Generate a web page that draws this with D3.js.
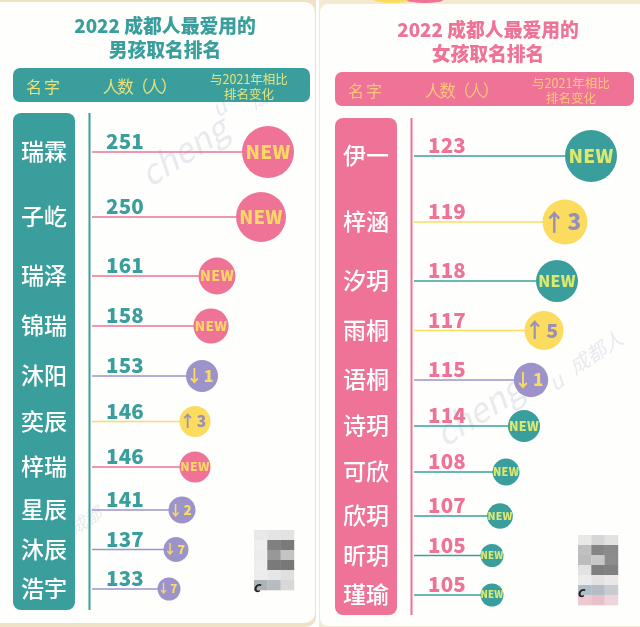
<!DOCTYPE html>
<html>
<head>
<meta charset="utf-8">
<script src="https://cdn.jsdelivr.net/npm/d3@7"></script>
<style>
  html, body { margin: 0; padding: 0; background: #fff; overflow: hidden; }
  svg { display: block; filter: blur(0.45px); }
  text { font-family: "Noto Sans CJK SC", sans-serif; }
</style>
</head>
<body>
<div id="chart"></div>
<script>
// boys table
var boyNames = ["瑞霖", "子屹", "瑞泽", "锦瑞", "沐阳", "奕辰", "梓瑞", "星辰", "沐辰", "浩宇"];
var boyCounts = [251, 250, 161, 158, 153, 146, 146, 141, 137, 133];
var boyChanges = ["NEW", "NEW", "NEW", "NEW", "-1", "+3", "NEW", "-2", "-7", "-7"];

// girls table
var girlNames = ["伊一", "梓涵", "汐玥", "雨桐", "语桐", "诗玥", "可欣", "欣玥", "昕玥", "瑾瑜"];
var girlCounts = [123, 119, 118, 117, 115, 114, 108, 107, 105, 105];
var girlChanges = ["NEW", "+3", "NEW", "+5", "-1", "NEW", "NEW", "NEW", "NEW", "NEW"];

// header labels
var headerName = "名字";
var headerCount = "人数（人）";
var headerChange = ["与2021年相比", "排名变化"];

var teal = "#3a9f9c", pink = "#ee7396", yellow = "#fbdc5f", purple = "#9d93cb";

var width = 640, height = 627;

var svg = d3.select("#chart")
  .append("svg")
    .attr("width", width)
    .attr("height", height);

// paper behind the two cards
svg.append("rect").attr("width", width).attr("height", height).attr("fill", "#fefefc");
svg.append("rect").attr("x", -20).attr("y", -10).attr("width", 336).attr("height", 637).attr("rx", 10).attr("fill", "#efe3c6");
svg.append("rect").attr("x", 319).attr("y", -10).attr("width", 340).attr("height", 637).attr("fill", "#f4ead2");
svg.append("rect").attr("x", -20).attr("y", 2).attr("width", 335).attr("height", 621).attr("rx", 10).attr("fill", "#fefefd");
svg.append("rect").attr("x", 320).attr("y", 4).attr("width", 340).attr("height", 622).attr("rx", 8).attr("fill", "#fefefd");
svg.append("ellipse").attr("cx", 392).attr("cy", 0).attr("rx", 18).attr("ry", 3).attr("fill", yellow);
svg.append("ellipse").attr("cx", 425).attr("cy", 0).attr("rx", 18).attr("ry", 3).attr("fill", pink);

// faint watermarks
var marks = [
  {x: 150, y: 188, a: -33, s: 34, t: "cheng"},
  {x: 445, y: 448, a: -33, s: 34, t: "cheng"},
  {x: 218, y: 118, a: -33, s: 22, t: "u"},
  {x: 555, y: 392, a: -33, s: 22, t: "u"},
  {x: 575, y: 375, a: -33, s: 20, t: "成都人"},
  {x: 255, y: 110, a: -33, s: 17, t: "成都"},
  {x: 75, y: 535, a: -33, s: 17, t: "成都"}
];
svg.selectAll("text.mark")
  .data(marks)
  .enter().append("text")
    .attr("class", "mark")
    .attr("transform", function(d) { return "translate(" + d.x + "," + d.y + ") rotate(" + d.a + ")"; })
    .attr("font-size", function(d) { return d.s; })
    .attr("font-style", "italic")
    .attr("fill", "#e8eaee")
    .text(function(d) { return d.t; });

// several lines in one text element
function multiline(g, lines, x, y, gap) {
  var t = g.append("text").attr("x", x).attr("y", y).attr("text-anchor", "middle");
  t.selectAll("tspan")
    .data(lines)
    .enter().append("tspan")
      .attr("x", x)
      .attr("dy", function(d, i) { return i == 0 ? 0 : gap; })
      .text(function(d) { return d; });
  return t;
}

function drawPanel(cfg) {
  var g = svg.append("g").attr("transform", "translate(" + cfg.left + ",0)");

  // rows get tighter going down the list, so rank -> y is piecewise
  var y = d3.scaleLinear().domain([0, 1, 2, 4, 6, 7, 9]).range(cfg.rowStops);
  var x = d3.scaleLinear().domain(cfg.xDomain).range(cfg.xRange);
  var r = d3.scaleLinear().domain(cfg.rDomain).range(cfg.rRange);
  var newSize = d3.scaleLinear().domain([11.5, 26]).range([9.6, 19]);

  multiline(g, cfg.title, cfg.titleX, cfg.titleY, 24)
    .attr("font-size", 18.8)
    .attr("font-weight", 900)
    .attr("fill", cfg.main);

  // header bar
  g.append("rect").attr("x", 0).attr("y", cfg.barY).attr("width", cfg.barW).attr("height", 34).attr("rx", 7).attr("fill", cfg.main);
  g.append("text").attr("x", 31).attr("y", cfg.barY + 25).attr("text-anchor", "middle")
    .attr("font-size", 16).attr("letter-spacing", 2).attr("fill", cfg.headText).text(headerName);
  g.append("text").attr("x", 126).attr("y", cfg.barY + 25).attr("text-anchor", "middle")
    .attr("font-size", 16.5).attr("letter-spacing", -2).attr("fill", cfg.headText).text(headerCount);
  multiline(g, headerChange, 236, cfg.barY + 16, 14.5)
    .attr("font-size", 12.5)
    .attr("fill", cfg.headText);

  // name column + vertical rule
  g.append("rect").attr("x", 0).attr("y", cfg.colY).attr("width", 62).attr("height", 497).attr("rx", 8).attr("fill", cfg.main);
  g.append("line").attr("x1", 76.5).attr("x2", 76.5).attr("y1", cfg.colY).attr("y2", cfg.colY + 497)
    .attr("stroke", cfg.main).attr("stroke-width", 2);

  var rows = cfg.names.map(function(n, i) {
    return {name: n, count: cfg.counts[i], change: cfg.changes[i], rank: i};
  });

  var row = g.selectAll("g.row")
    .data(rows)
    .enter().append("g")
      .attr("class", "row")
      .attr("transform", function(d) { return "translate(0," + y(d.rank) + ")"; });

  row.append("text")
    .attr("x", 31)
    .attr("y", 8)
    .attr("text-anchor", "middle")
    .attr("font-size", 23)
    .attr("font-weight", 500)
    .attr("fill", "#fff")
    .text(function(d) { return d.name; });

  row.append("line")
    .attr("x1", 79)
    .attr("x2", function(d) { return x(d.count); })
    .attr("stroke", function(d) { return stemColor(d.change, cfg); })
    .attr("stroke-width", 1.7);

  row.append("text")
    .attr("x", 93)
    .attr("y", -3)
    .attr("font-size", 20.5)
    .attr("font-weight", 900)
    .attr("letter-spacing", 0.2)
    .attr("fill", cfg.main)
    .text(function(d) { return d.count; });

  row.append("circle")
    .attr("cx", function(d) { return x(d.count); })
    .attr("r", function(d) { return r(d.count); })
    .attr("fill", function(d) { return stemColor(d.change, cfg); });

  var isNew = row.filter(function(d) { return d.change == "NEW"; });
  var moved = row.filter(function(d) { return d.change != "NEW"; });

  isNew.append("text")
    .attr("x", function(d) { return x(d.count); })
    .attr("y", function(d) { return newSize(r(d.count)) * 0.36; })
    .attr("text-anchor", "middle")
    .attr("font-weight", 900)
    .attr("font-size", function(d) { return newSize(r(d.count)); })
    .attr("letter-spacing", 0.3)
    .attr("fill", cfg.newText)
    .text(function(d) { return d.change; });

  function movedColor(d) { return d.change[0] == "+" ? "#9a8fb8" : yellow; }

  // arrow and step count sit apart inside the badge
  moved.append("text")
    .attr("x", function(d) { return x(d.count) - r(d.count) * 0.47; })
    .attr("y", function(d) { return r(d.count) * 0.38; })
    .attr("text-anchor", "middle")
    .attr("font-family", "DejaVu Sans")
    .attr("font-weight", 700)
    .attr("font-size", function(d) { return r(d.count) * 1.05; })
    .attr("fill", movedColor)
    .text(function(d) { return d.change[0] == "+" ? "↑" : "↓"; });

  moved.append("text")
    .attr("x", function(d) { return x(d.count) + r(d.count) * 0.42; })
    .attr("y", function(d) { return r(d.count) * 0.36; })
    .attr("text-anchor", "middle")
    .attr("font-weight", 900)
    .attr("font-size", function(d) { return r(d.count) * 1; })
    .attr("fill", movedColor)
    .text(function(d) { return d.change.slice(1); });

  // pixelated logo in the corner
  var cell = 13.3, cellH = 10;
  cfg.mosaic.forEach(function(line, i) {
    line.forEach(function(v, j) {
      g.append("rect")
        .attr("x", cfg.mosaicX + j * cell).attr("y", cfg.mosaicY + i * cellH)
        .attr("width", cell + 0.3).attr("height", cellH + 0.3)
        .attr("fill", v);
    });
  });
  g.append("text").attr("x", cfg.mosaicX - 1).attr("y", cfg.logoY).attr("font-size", 14)
    .attr("font-weight", 700).attr("font-style", "italic").attr("fill", "#222").text("c");
}

function stemColor(change, cfg) {
  if (change == "NEW") return cfg.newColor;
  return change[0] == "+" ? yellow : purple;
}

drawPanel({
  left: 13,
  title: ["2022 成都人最爱用的", "男孩取名排名"], titleX: 152, titleY: 33,
  barY: 68, barW: 297, colY: 113,
  main: teal, headText: "#e8e27c", newColor: pink, newText: "#fbd768",
  names: boyNames, counts: boyCounts, changes: boyChanges,
  rowStops: [152, 217, 276, 376, 467, 510, 589],
  xDomain: [133, 137, 141, 146, 153, 158, 161, 250, 251],
  xRange: [156, 163, 169, 182, 189, 198, 204, 248, 255],
  rDomain: [133, 141, 146, 153, 161, 250, 251],
  rRange: [11.5, 13.5, 15.5, 16, 18.5, 25, 26],
  mosaicX: 241, mosaicY: 530, logoY: 592,
  mosaic: [["#e8e8e8", "#e4e4e4", "#e2e2e2"], ["#eeeeee", "#808080", "#7a7a7a"], ["#ececec", "#989898", "#c4c4c4"],
           ["#eeeeee", "#7a7a7a", "#787878"], ["#ececec", "#e6e6e6", "#e0e0e0"], ["#acb4b8", "#b8bcc0", "#d8d8d8"]]
});

drawPanel({
  left: 335,
  title: ["2022 成都人最爱用的", "女孩取名排名"], titleX: 153, titleY: 37,
  barY: 72, barW: 299, colY: 118,
  main: pink, headText: "#fcc67e", newColor: teal, newText: "#dde96e",
  names: girlNames, counts: girlCounts, changes: girlChanges,
  rowStops: [156, 222, 281, 380, 472, 516, 595],
  xDomain: [105, 107, 108, 114, 115, 117, 118, 119, 123],
  xRange: [157, 165, 171, 189, 196, 209, 222, 230, 256],
  rDomain: [105, 108, 114, 117, 119, 123],
  rRange: [11.5, 13.5, 16, 19.5, 22.5, 26],
  mosaicX: 243, mosaicY: 535, logoY: 597,
  mosaic: [["#e8e8e8", "#d6d6d6", "#e2e2e2"], ["#c0c0c0", "#848484", "#8a8a8a"], ["#bcbcbc", "#c8c8c8", "#8c8c8c"],
           ["#e2e2e2", "#7e7e7e", "#808080"], ["#ececec", "#e2e2e2", "#e8e8e8"], ["#b0bec8", "#b4bcc4", "#c8ccd0"], ["#ecc8d0", "#e8c0cc", "#f0d4dc"]]
});
</script>
</body>
</html>
